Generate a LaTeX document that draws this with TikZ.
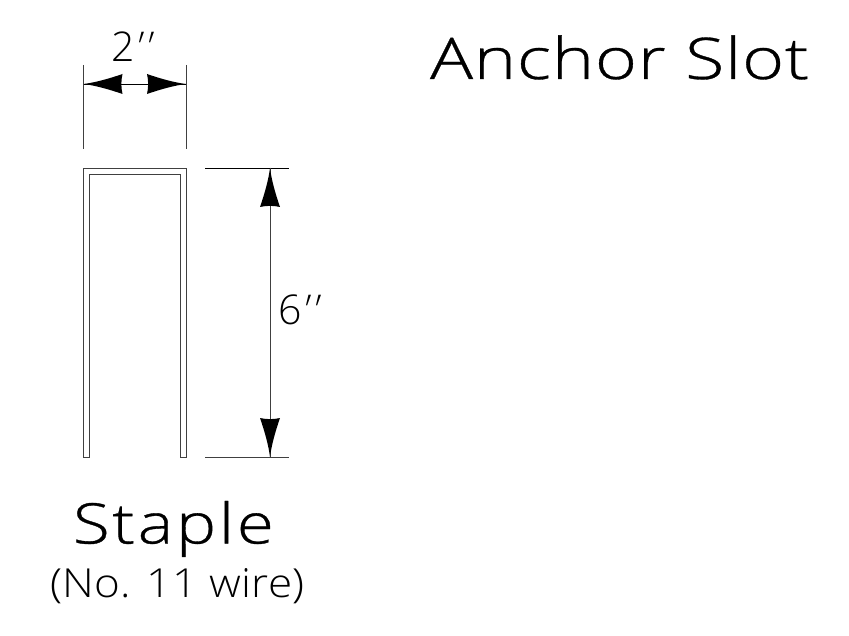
\documentclass[tikz,border=0pt]{standalone}
\usepackage{fontspec}
\setmainfont{Open Sans}[UprightFont=* Light]
\newfontfamily\cadA{Open Sans}[UprightFont=* Light,LetterSpace=1.4,FakeBold=0.6,FakeStretch=1.25]
\newfontfamily\cadB{Open Sans}[UprightFont=* Light,LetterSpace=5,FakeBold=0.6,FakeStretch=1.2]
\newfontfamily\cadC{Open Sans}[UprightFont=* Light,LetterSpace=0.9,FakeStretch=1.1]
\newfontfamily\cadP{Open Sans}[UprightFont=* Light,FakeSlant=0.3]
\tikzset{
  thinline/.style={draw=black,line width=0.9pt},
  wireline/.style={draw=black!75,line width=0.9pt},
  cadtext/.style={inner sep=0pt,outer sep=0pt,anchor=base west},
  dimhead/.pic={\fill[black] (0,0) .. controls (12,-1.5) and (26,-5.5) .. (39,-10)
     .. controls (37.5,-4) and (37.5,4) .. (39,10)
     .. controls (26,5.5) and (12,1.5) .. (0,0) -- cycle;}
}
\newcommand{\primes}{{\cadP\kern-4pt'\kern2.5pt'}}
\begin{document}
\begin{tikzpicture}[x=1pt,y=-1pt]
\useasboundingbox (0,0) rectangle (849,636);
% staple
\draw[wireline] (83.5,457) -- (83.5,168) -- (186,168) -- (186,457) -- (180.5,457) -- (180.5,174) -- (89.5,174) -- (89.5,457) -- cycle;
% width dimension
\coordinate (wl) at (83.5,84); \coordinate (wr) at (186,84);
\coordinate (wlt) at (83.5,65); \coordinate (wlb) at (83.5,149);
\coordinate (wrt) at (186,65); \coordinate (wrb) at (186,149);
\draw[wireline] (wlt) -- (wlb);
\draw[wireline] (wrt) -- (wrb);
\draw[thinline] (wl) -- (wr);
\pic at (wl) {dimhead};
\pic[rotate=180] at (wr) {dimhead};
% height dimension
\coordinate (ht) at (270,168); \coordinate (hb) at (270,457);
\coordinate (htl) at (205,168); \coordinate (htr) at (289,168);
\coordinate (hbl) at (205,457); \coordinate (hbr) at (289,457);
\draw[thinline] (htl) -- (htr);
\draw[wireline] (hbl) -- (hbr);
\draw[wireline] (ht) -- (hb);
\pic[rotate=-90] at (ht) {dimhead};
\pic[rotate=90] at (hb) {dimhead};
% labels
\node[cadtext,font=\fontsize{41}{41}\selectfont] (w2) at (111,62) {2\primes};
\node[cadtext,font=\fontsize{41}{41}\selectfont] (h6) at (278,325) {6\primes};
\node[cadtext,font=\cadA\fontsize{57.4}{57.4}\selectfont] (title) at (430,79) {Anchor Slot};
\node[cadtext,font=\cadB\fontsize{56}{56}\selectfont] (staple) at (73,543.5) {Staple};
\node[cadtext,font=\cadC\fontsize{40}{40}\selectfont] (wire) at (50,597) {(No. 11 wire)};
\end{tikzpicture}
\end{document}
